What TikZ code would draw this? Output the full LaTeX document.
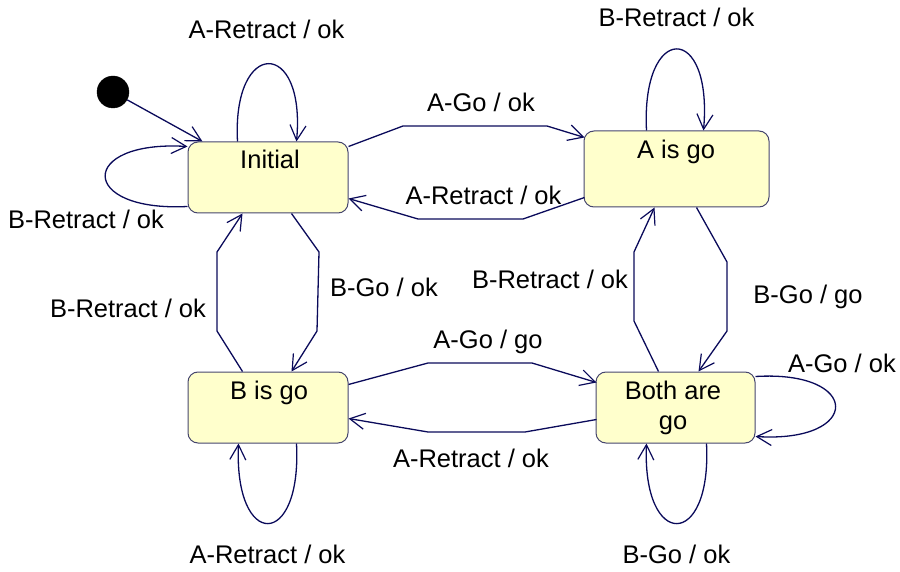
\documentclass[tikz,border=0pt]{standalone}
\usepackage{fontspec}
\setmainfont{Liberation Sans}
\usetikzlibrary{arrows.meta,calc}

\definecolor{wire}{RGB}{10,10,90}
\definecolor{stateedge}{RGB}{70,70,110}
\definecolor{statefill}{RGB}{255,255,204}

\tikzset{
  state/.style={draw=stateedge, line width=1pt, fill=statefill, rounded corners=10pt,
    inner sep=0pt},
  statename/.style={anchor=base, inner sep=0pt, align=center},
  trans/.style={draw=wire, line width=1.3pt,
    -{Straight Barb[length=15pt,width=16pt,line width=1.2pt]}},
  lbl/.style={anchor=base, inner sep=0pt},
}

\begin{document}
\begin{tikzpicture}[x=1pt, y=-1pt,
  every node/.append style={font=\fontsize{25.5}{30}\selectfont}]
\useasboundingbox (0,0) rectangle (900,572);

% states
\node[state, minimum width=160pt, minimum height=71pt] (init) at (268,177.5) {};
\node[state, minimum width=185pt, minimum height=76pt] (ago) at (676.5,169) {};
\node[state, minimum width=160pt, minimum height=71pt] (bgo) at (268,407.5) {};
\node[state, minimum width=159pt, minimum height=71pt] (both) at (675.5,407.5) {};

\node[statename] (initname) at (270,169) {Initial};
\node[statename] (agoname) at (676,159) {A is go};
\node[statename] (bgoname) at (269,399) {B is go};
\node[statename] (bothname1) at (673,399) {Both are};
\node[statename] (bothname2) at (673,429) {go};

% initial pseudo-state
\node[circle, fill=black, draw=black, minimum size=32pt, inner sep=0pt] (start) at (113,92) {};
\draw[trans] (start) -- ($(init.north west)+(15,0)$);

% self transitions
\draw[trans] ($(init.north west)+(50,0)$) .. controls (232,38) and (306,38) .. ($(init.north west)+(109,0)$);
\draw[trans] ($(init.north west)+(0,65)$) .. controls (78,212) and (78,140) .. ($(init.north west)+(0,5)$);
\draw[trans] ($(ago.north west)+(63,0)$) .. controls (641,22) and (713,22) .. ($(ago.north west)+(120,0)$);
\draw[trans] ($(both.north east)+(0,5)$) .. controls (862,370) and (862,443) .. ($(both.north east)+(0,65)$);
\draw[trans] ($(both.south west)+(111,0)$) .. controls (712,550) and (642,550) .. ($(both.south west)+(51,0)$);
\draw[trans] ($(bgo.south west)+(109,0)$) .. controls (302,550) and (234,550) .. ($(bgo.south west)+(51,0)$);

% transitions between states
\draw[trans] ($(init.north east)+(0,5)$) -- (403,126) -- (547,126) -- ($(ago.north west)+(1,7)$);
\draw[trans] ($(ago.north west)+(1,67)$) -- (523,219) -- (418,219) -- ($(init.north east)+(0,57)$);
\draw[trans] ($(init.south west)+(104,0)$) -- (319,252) -- (317,331) -- ($(bgo.north west)+(104,0)$);
\draw[trans] ($(bgo.north west)+(55,0)$) -- (217,331) -- (217,252) -- ($(init.south west)+(55,0)$);
\draw[trans] ($(ago.south west)+(113,0)$) -- (727,262) -- (727,331) -- ($(both.north west)+(103,0)$);
\draw[trans] ($(both.north west)+(63,0)$) -- (634,321) -- (634,252) -- ($(ago.south west)+(71,0)$);
\draw[trans] ($(bgo.north east)+(0,13)$) -- (428,363) -- (532,363) -- ($(both.north west)+(1,11)$);
\draw[trans] ($(both.north west)+(1,48)$) -- (525,432) -- (428,432) -- ($(bgo.north east)+(0,47)$);

% transition labels
\node[lbl] (l1) at (266.5,39) {A-Retract / ok};
\node[lbl] (l2) at (86,229) {B-Retract / ok};
\node[lbl] (l3) at (676.5,27) {B-Retract / ok};
\node[lbl] (l4) at (481,112) {A-Go / ok};
\node[lbl] (l5) at (483.5,205) {A-Retract / ok};
\node[lbl] (l6) at (384,297) {B-Go / ok};
\node[lbl] (l7) at (128,317) {B-Retract / ok};
\node[lbl] (l8) at (550,289) {B-Retract / ok};
\node[lbl] (l9) at (808,303) {B-Go / go};
\node[lbl] (l10) at (488,348) {A-Go / go};
\node[lbl] (l11) at (471,467) {A-Retract / ok};
\node[lbl] (l12) at (842,372) {A-Go / ok};
\node[lbl] (l13) at (267.5,563) {A-Retract / ok};
\node[lbl] (l14) at (676.5,563) {B-Go / ok};
\end{tikzpicture}
\end{document}
